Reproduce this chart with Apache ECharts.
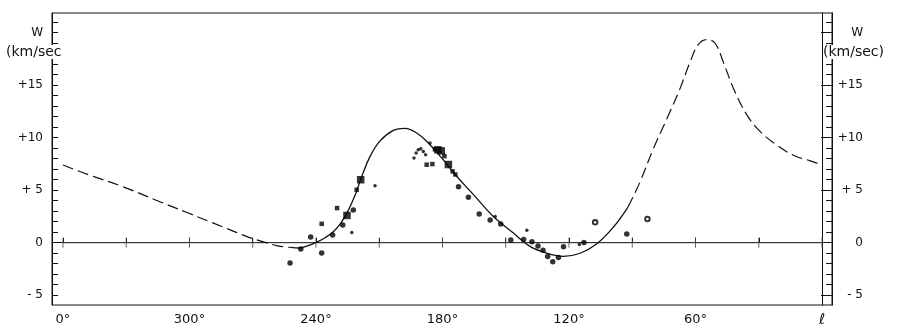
<!DOCTYPE html>
<html>
<head>
<meta charset="utf-8">
<script src="https://cdn.jsdelivr.net/npm/echarts@6/dist/echarts.min.js"></script>
<style>
  html, body { margin: 0; padding: 0; background: #fff; }
  #chart { width: 900px; height: 333px; }
</style>
</head>
<body>
<div id="chart"></div>
<script>
// galactic longitude l (deg) vs W (km/sec)
var dashedWest = [[360, 7.4], [348, 6.48], [332, 5.37], [316.4, 4.1], [300.6, 2.83], [284.7, 1.55], [272.1, 0.54], [265.7, 0.13], [258, -0.3], [252, -0.45]]
var solidFit = [[252, -0.45], [248, -0.5], [244, -0.3], [239.6, 0.05], [235.5, 0.5], [231.8, 1.05], [228.5, 1.8], [225.4, 2.8], [221.5, 4.5], [218.3, 6.3], [214.4, 8.2], [209.6, 9.7], [203.3, 10.7], [197.8, 10.9], [192.2, 10.45], [186.7, 9.5], [180.5, 8.1], [174, 6.5], [165.4, 4.6], [155.9, 2.5], [146.4, 0.92], [138.5, -0.35], [130.5, -1.0], [122.7, -1.3], [114.7, -1.0], [106.8, -0.1], [98.9, 1.5], [92, 3.4]]
var dashedEast = [[92, 3.4], [86.3, 5.8], [80, 8.95], [73.6, 11.8], [67.3, 14.7], [62.6, 17.2], [58.6, 18.9], [54.6, 19.35], [50.7, 19.0], [46.8, 17.2], [42, 14.7], [35.7, 12.2], [29.4, 10.6], [21.4, 9.3], [13.6, 8.33], [5.6, 7.8], [0, 7.4]]

var circles = [[252.3, -1.93], [247.2, -0.6], [242.5, 0.54], [237.3, -0.98], [232.1, 0.73], [227.3, 1.68], [222.3, 3.11], [172.4, 5.33], [167.7, 4.33], [162.6, 2.73], [157.4, 2.16], [152.4, 1.78], [147.6, 0.26], [141.5, 0.3], [137.6, 0.09], [134.7, -0.31], [132.3, -0.71], [130.1, -1.3], [127.7, -1.8], [125, -1.4], [122.6, -0.38], [112.9, 0.03], [92.6, 0.83]]
var bigSquares = [[225.3, 2.6], [218.8, 6.0], [182.2, 8.85], [180.6, 8.75], [177.2, 7.45]]
var squares = [[237.3, 1.8], [230, 3.3], [220.7, 5.05], [187.5, 7.43], [184.8, 7.49], [183.6, 8.9], [179.1, 8.25], [175.2, 6.8], [173.9, 6.5]]
var dots = [[223, 0.98], [212, 5.43], [193.5, 8.07], [192.5, 8.54], [191.5, 8.86], [190.3, 8.95], [189.1, 8.7], [188, 8.38], [185.9, 9.5], [155, 2.5], [140, 1.2], [115.1, -0.17]]
var openDots = [[107.6, 1.95], [82.8, 2.26]]

var zeroLine = [[360, 0], [0, 0]]
var zeroTickL = [0, 30, 60, 90, 120, 150, 180, 210, 240, 270, 300, 330, 360]
var xLabelL = [0, 60, 120, 180, 240, 300, 360]
var yMajor = [-5, 0, 5, 10, 15, 20]
var yMinor = [-5, -4, -3, -2, -1, 0, 1, 2, 3, 4, 5, 6, 7, 8, 9, 10, 11, 12, 13, 14, 15, 16, 17, 18, 19, 20, 21]
var yLabelText = { '-5': '- 5', '0': '0', '5': '+ 5', '10': '+10', '15': '+15', '20': 'W' }

var ink = '#111'
var font = 'DejaVu Sans'

function yAxisDef (pos, major) {
  return {
    type: 'value',
    position: pos,
    min: -5.93,
    max: 21.88,
    splitLine: { show: false },
    axisLine: { show: true, lineStyle: { color: ink, width: 1 } },
    axisTick: {
      show: true,
      inside: true,
      length: major ? 11 : 6,
      customValues: major ? yMajor : yMinor,
      lineStyle: { color: ink, width: 1 }
    },
    axisLabel: {
      show: major,
      customValues: yMajor,
      margin: pos === 'left' ? 9 : 31,
      align: 'right',
      color: ink,
      fontFamily: font,
      fontSize: 12,
      formatter: function (v) { return yLabelText[String(v)] }
    }
  }
}

var chart = echarts.init(document.getElementById('chart'))
chart.setOption({
  animation: false,
  backgroundColor: '#fff',
  grid: { left: 52, right: 68, top: 13, bottom: 28, show: true, borderColor: ink, borderWidth: 1 },
  xAxis: {
    type: 'value',
    inverse: true,
    min: -4.74,
    max: 365.2,
    splitLine: { show: false },
    axisLine: { show: true, lineStyle: { color: ink } },
    axisTick: { show: true, inside: true, length: 5, customValues: zeroTickL, lineStyle: { color: ink } },
    axisLabel: {
      customValues: xLabelL,
      margin: 8,
      color: ink,
      fontFamily: font,
      fontSize: 13,
      formatter: function (v) {
        if (v === 0) return '{l|ℓ}'
        return (v === 360 ? 0 : v) + '°'
      },
      rich: { l: { fontFamily: font, fontStyle: 'italic', fontSize: 15, color: ink } }
    }
  },
  yAxis: [yAxisDef('left', true), yAxisDef('left', false), yAxisDef('right', true), yAxisDef('right', false)],
  graphic: [
    {
      type: 'text', left: 6, top: 45, z: 100,
      style: { text: '(km/sec', fontFamily: font, fontSize: 14, fill: ink, backgroundColor: '#fff' }
    },
    {
      type: 'text', left: 823, top: 45, z: 100,
      style: { text: '(km/sec)', fontFamily: font, fontSize: 14, fill: ink, backgroundColor: '#fff' }
    }
  ],
  series: [
    {
      type: 'line', data: zeroLine, symbol: 'none', silent: true,
      lineStyle: { color: '#444', width: 1 }
    },
    {
      type: 'scatter', data: zeroTickL.map(function (l) { return [l, 0] }),
      symbol: 'rect', symbolSize: [1, 10], silent: true,
      itemStyle: { color: '#444' }
    },
    {
      type: 'line', data: dashedWest, symbol: 'none', smooth: 0.4, silent: true,
      lineStyle: { color: ink, width: 1.2, type: [11, 5] }
    },
    {
      type: 'line', data: solidFit, symbol: 'none', smooth: 0.4, silent: true,
      lineStyle: { color: ink, width: 1.3 }
    },
    {
      type: 'line', data: dashedEast, symbol: 'none', smooth: 0.4, silent: true,
      lineStyle: { color: ink, width: 1.2, type: [11, 5] }
    },
    { type: 'scatter', data: circles, symbol: 'circle', symbolSize: 5.5, silent: true, itemStyle: { color: '#000' }, z: 5 },
    { type: 'scatter', data: bigSquares, symbol: 'rect', symbolSize: 7.5, silent: true, itemStyle: { color: '#000' }, z: 5 },
    { type: 'scatter', data: squares, symbol: 'rect', symbolSize: 4.5, silent: true, itemStyle: { color: '#000' }, z: 5 },
    { type: 'scatter', data: dots, symbol: 'circle', symbolSize: 3.5, silent: true, itemStyle: { color: '#000' }, z: 5 },
    {
      type: 'scatter', data: openDots, symbol: 'emptyCircle', symbolSize: 4.5, silent: true,
      itemStyle: { color: '#000', borderColor: '#000', borderWidth: 1.8 }, z: 5
    }
  ]
})
window.addEventListener('resize', function () {
  chart.resize()
})
</script>
</body>
</html>
